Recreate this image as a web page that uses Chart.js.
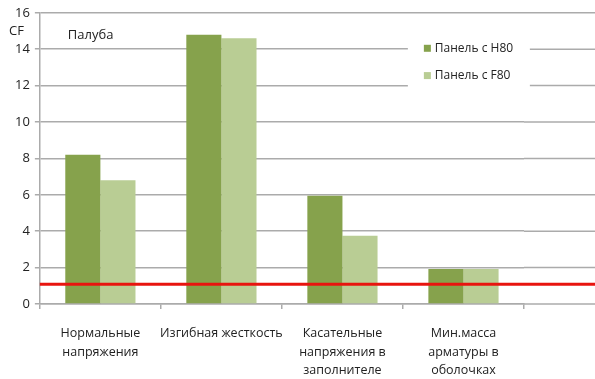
<!DOCTYPE html>
<html>
<head>
<meta charset="utf-8">
<script src="https://cdn.jsdelivr.net/npm/chart.js@4/dist/chart.umd.min.js"></script>
<style>
  html, body { margin: 0; padding: 0; background: #fff; overflow: hidden; }
  #wrap { width: 595px; height: 379px; }
</style>
</head>
<body>
<div id="wrap"><canvas id="cf-chart"></canvas></div>
<script>
const categories = [
    ['Нормальные', 'напряжения'],
    ['Изгибная жесткость'],
    ['Касательные', 'напряжения в', 'заполнителе'],
    ['Мин.масса', 'арматуры в', 'оболочках']
];
const seriesNames = ['Панель с H80', 'Панель с F80'];
const h80Values = [8.2, 14.8, 5.95, 1.92];
const f80Values = [6.8, 14.6, 3.75, 1.92];
const yTicks = [0, 2, 4, 6, 8, 10, 12, 14, 16];
const limitCF = 1.08;

const FONT = '"Open Sans", sans-serif';
const GRID = '#ababab';
const colors = ['#86a24c', '#b9cd94'];

// gridlines run on past the last category to the canvas edge, plus the CF limit line
const extras = {
    id: 'extras',
    beforeDatasetsDraw(chart) {
        const {ctx, chartArea, scales: {y}} = chart;
        ctx.save();
        ctx.strokeStyle = GRID;
        ctx.lineWidth = 1.5;
        yTicks.forEach(v => {
            const py = y.getPixelForValue(v);
            ctx.beginPath();
            ctx.moveTo(chartArea.right, py);
            ctx.lineTo(chart.width, py);
            ctx.stroke();
        });
        ctx.restore();
    },
    afterDatasetsDraw(chart) {
        const {ctx, chartArea, scales: {y}} = chart;
        const py = y.getPixelForValue(limitCF);
        ctx.save();
        ctx.strokeStyle = '#e8140f';
        ctx.lineWidth = 3;
        ctx.beginPath();
        ctx.moveTo(chartArea.left, py);
        ctx.lineTo(chart.width, py);
        ctx.stroke();

        // title and axis name
        ctx.fillStyle = '#222';
        ctx.font = '13px ' + FONT;
        ctx.textBaseline = 'middle';
        ctx.textAlign = 'left';
        ctx.fillText('Палуба', chartArea.left + 28, y.getPixelForValue(14.75));
        ctx.fillText('CF', 9, y.getPixelForValue(15));

        // legend box inside the plot
        const lx = chartArea.left + 368, ly = y.getPixelForValue(15.1);
        ctx.fillStyle = '#fff';
        ctx.fillRect(lx, ly, 122, y.getPixelForValue(11.5) - ly);
        seriesNames.forEach((name, i) => {
            const cy = y.getPixelForValue(14.05 - i * 1.5);
            ctx.fillStyle = colors[i];
            ctx.fillRect(lx + 16, cy - 3.5, 7, 7);
            ctx.fillStyle = '#222';
            ctx.font = '12px ' + FONT;
            ctx.fillText(name, lx + 27, cy);
        });
        ctx.restore();
    }
};

new Chart(document.getElementById('cf-chart').getContext('2d'), {
    type: 'bar',
    data: {
        labels: categories,
        datasets: [
            {label: seriesNames[0], data: h80Values, backgroundColor: colors[0]},
            {label: seriesNames[1], data: f80Values, backgroundColor: colors[1]}
        ]
    },
    options: {
        responsive: true,
        maintainAspectRatio: false,
        animation: false,
        layout: {padding: {left: 10, right: 71, top: 10, bottom: 0}},
        categoryPercentage: 0.58,
        barPercentage: 1.0,
        plugins: {
            legend: {display: false},
            tooltip: {enabled: false}
        },
        scales: {
            x: {
                afterFit: axis => { axis.height = 75; },
                grid: {display: true, drawOnChartArea: false, color: GRID, lineWidth: 1.5, tickLength: 5},
                border: {color: GRID, width: 1.5},
                ticks: {
                    color: '#222',
                    font: {family: FONT, size: 12.5, lineHeight: 1.5},
                    maxRotation: 0,
                    autoSkip: false,
                    padding: 15
                }
            },
            y: {
                min: 0,
                max: 16,
                afterBuildTicks: axis => { axis.ticks = yTicks.map(v => ({value: v})); },
                grid: {color: GRID, lineWidth: 1.5, tickLength: 5},
                border: {color: GRID, width: 1.5},
                ticks: {
                    color: '#222',
                    font: {family: FONT, size: 13},
                    padding: 5
                }
            }
        }
    },
    plugins: [extras]
});
</script>
</body>
</html>
